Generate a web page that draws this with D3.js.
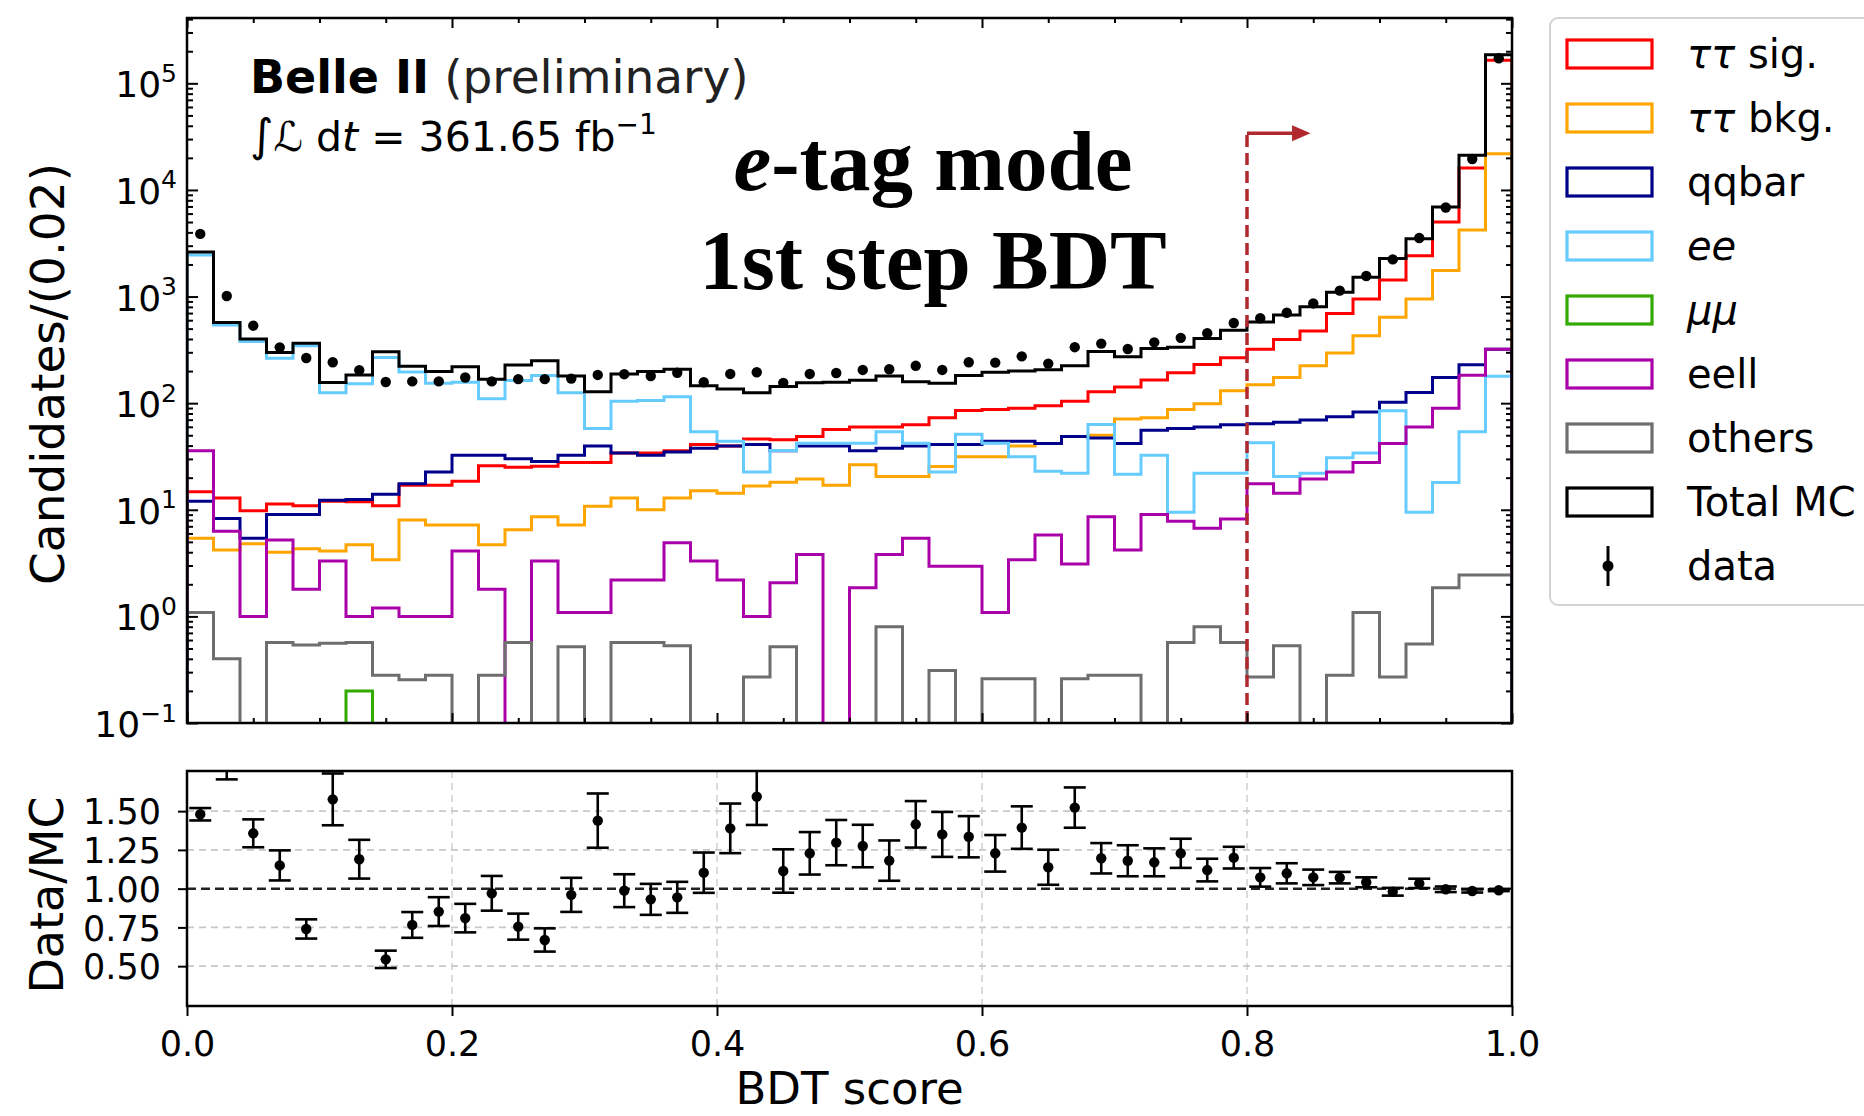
<!DOCTYPE html>
<html>
<head>
<meta charset="utf-8">
<script src="https://cdn.jsdelivr.net/npm/d3@7"></script>
<style>
  html, body { margin: 0; padding: 0; background: #ffffff; }
  svg { display: block; }
  text { font-family: "DejaVu Sans", sans-serif; fill: #000; }
</style>
</head>
<body>
<svg id="chart" width="1864" height="1116"></svg>
<script>
// BDT score histogram: 50 bins of width 0.02 between 0 and 1
const binWidth = 0.02;
const nBins = 50;

const ttSig = [14.8, 12.9, 9.8, 11.3, 10.9, 12.0, 11.9, 10.9, 17.0, 17.0,
  18.5, 25.9, 25.0, 25.6, 27.8, 27.8, 34, 34, 35.8, 40.9,
  39.6, 46.2, 45.3, 48.6, 56.7, 59.7, 59.7, 62.8, 73.1, 85.3,
  87, 89.7, 94.4, 104, 128, 142, 165, 193, 231, 267,
  321, 396, 475, 693, 946, 1430, 2410, 5000, 16100, 165000];

const ttBkg = [5.4, 4.2, 4.8, 4.0, 4.3, 4.1, 4.7, 3.4, 8.0, 7.2,
  7.2, 4.7, 6.5, 8.6, 7.2, 10.8, 12.9, 10.0, 12.9, 15.1,
  14.3, 16.7, 18.1, 19.4, 17.0, 26.4, 20.5, 20.5, 25.4, 31.4,
  31.4, 39.7, 41.8, 48.6, 50, 71, 73.1, 87, 99, 131,
  149, 174, 224, 296, 430, 640, 950, 1760, 4200, 21900];

const qqbar = [12.0, 8.3, 5.4, 9.05, 9.05, 12.3, 12.5, 14.0, 17.5, 22.6,
  32.4, 32.4, 30.1, 28.3, 32.4, 39.7, 34, 32.4, 34.8, 37.7,
  39.7, 40.9, 35.8, 39.7, 39.7, 35.8, 37.7, 39.7, 40.9, 40.9,
  44, 44, 41.8, 48.6, 47.2, 41.8, 55.6, 58, 59.7, 62.8,
  64.1, 66.1, 69.5, 74.6, 82.6, 102, 126, 174, 229, 321];

const ee = [2450, 542, 378, 264, 345, 125, 152, 268, 196, 154,
  157, 110, 163, 182, 125, 58, 104, 106, 115, 54,
  44, 22.6, 36, 42, 42, 42, 54, 42, 22.6, 51,
  42, 31.4, 23, 22, 63, 21.5, 32.4, 9.5, 22, 22,
  42.6, 20.5, 22, 30.7, 34, 85, 9.5, 18, 54, 179];

const mumu = [0, 0, 0, 0, 0, 0, 0.2, 0, 0, 0,
  0, 0, 0, 0, 0, 0, 0, 0, 0, 0,
  0, 0, 0, 0, 0, 0, 0, 0, 0, 0,
  0, 0, 0, 0, 0, 0, 0, 0, 0, 0,
  0, 0, 0, 0, 0, 0, 0, 0, 0, 0];

const eell = [35.8, 6.3, 1.0, 5.2, 1.8, 3.3, 1.0, 1.2, 1.0, 1.0,
  4.1, 1.8, 0, 3.3, 1.09, 1.09, 2.2, 2.2, 4.9, 3.3,
  2.2, 1.0, 2.07, 3.8, 0, 1.86, 3.8, 5.4, 2.95, 2.95,
  1.09, 3.4, 5.8, 3.1, 8.6, 4.2, 9.05, 7.8, 6.7, 8.2,
  17.5, 14.3, 19.4, 22.6, 27.8, 41.8, 59.7, 89.7, 183, 321];

const others = [1.09, 0.40, 0, 0.57, 0.54, 0.56, 0.57, 0.28, 0.255, 0.28,
  0, 0.28, 0.57, 0, 0.52, 0, 0.57, 0.57, 0.53, 0,
  0, 0.27, 0.52, 0, 0, 0, 0.8, 0, 0.31, 0,
  0.26, 0.26, 0, 0.26, 0.28, 0.28, 0, 0.57, 0.8, 0.57,
  0.27, 0.53, 0, 0.28, 1.09, 0.27, 0.55, 1.86, 2.45, 2.45];

const totalMC = [2620, 570, 400, 298, 364, 156, 184, 304, 222, 198,
  219, 168, 228, 250, 180, 128, 188, 198, 208, 146,
  136, 125, 143, 155, 157, 164, 180, 159, 154, 182,
  195, 200, 206, 224, 305, 272, 325, 335, 404, 484,
  578, 670, 803, 1100, 1515, 2280, 3490, 6900, 21100, 185000];

const dataCounts = [3870, 1013, 533, 334, 265, 242, 204, 158, 160, 160,
  174, 160, 168, 168, 170, 184, 187, 180, 193, 157,
  188, 195, 155, 188, 192, 205, 208, 224, 205, 242,
  240, 275, 235, 335, 362, 322, 372, 410, 453, 565,
  626, 705, 862, 1136, 1560, 2230, 3540, 6850, 19500, 172000];

const ratio = [1.48, 1.85, 1.357, 1.15, 0.74, 1.576, 1.19, 0.544, 0.766, 0.852,
  0.81, 0.97, 0.755, 0.669, 0.96, 1.439, 0.987, 0.931, 0.944, 1.103,
  1.389, 1.594, 1.114, 1.228, 1.297, 1.275, 1.181, 1.415, 1.35, 1.335,
  1.228, 1.394, 1.138, 1.523, 1.196, 1.18, 1.17, 1.228, 1.12, 1.2,
  1.073, 1.099, 1.073, 1.071, 1.041, 0.98, 1.034, 0.996, 0.985, 0.99];

const ratioErr = [0.04, 0.145, 0.09, 0.097, 0.062, 0.167, 0.125, 0.056, 0.083, 0.093,
  0.092, 0.112, 0.084, 0.075, 0.11, 0.175, 0.106, 0.10, 0.10, 0.13,
  0.16, 0.183, 0.14, 0.137, 0.146, 0.137, 0.13, 0.15, 0.145, 0.133,
  0.118, 0.137, 0.113, 0.13, 0.098, 0.10, 0.09, 0.094, 0.073, 0.07,
  0.06, 0.065, 0.05, 0.037, 0.032, 0.025, 0.03, 0.018, 0.01, 0.006];

// legend / series definitions
const seriesNames = ["ττ sig.", "ττ bkg.", "qqbar", "ee", "μμ", "eell", "others", "Total MC"];
const seriesColors = ["#ff0000", "#ffa500", "#00008b", "#66ccff", "#33aa00", "#aa00aa", "#6e6e6e", "#000000"];
const seriesValues = [ttSig, ttBkg, qqbar, ee, mumu, eell, others, totalMC];

const xTickValues = [0, 0.2, 0.4, 0.6, 0.8, 1.0];
const xMinorValues = d3.range(0, 1.0001, 0.05);
const yTickExponents = [-1, 0, 1, 2, 3, 4, 5];
const ratioTicks = [0.5, 0.75, 1.0, 1.25, 1.5];
const cutValue = 0.8;

const svg = d3.select("#chart");
const main = { left: 187, right: 1512, top: 18, bottom: 723 };
const low = { top: 771, bottom: 1006 };

const x = d3.scaleLinear().domain([0, 1]).range([main.left, main.right]);
const y = d3.scaleLog().domain([0.1, 4.1e5]).range([main.bottom, main.top]);
const yr = d3.scaleLinear().domain([0.243, 1.759]).range([low.bottom, low.top]);

const defs = svg.append("defs");
defs.append("clipPath").attr("id", "clipMain").append("rect")
  .attr("x", main.left).attr("y", main.top)
  .attr("width", main.right - main.left).attr("height", main.bottom - main.top);
defs.append("clipPath").attr("id", "clipLow").append("rect")
  .attr("x", main.left).attr("y", low.top)
  .attr("width", main.right - main.left).attr("height", low.bottom - low.top);

// ---------- main panel: step histograms ----------
const FLOOR = 1e-3;
function stepPoints(vals) {
  const pts = [[0, FLOOR]];
  vals.forEach((v, i) => {
    const vv = v > 0 ? v : FLOOR;
    pts.push([i * binWidth, vv], [(i + 1) * binWidth, vv]);
  });
  pts.push([1, FLOOR]);
  return pts;
}
const stepLine = d3.line().x(d => x(d[0])).y(d => y(d[1]));

const gHist = svg.append("g").attr("clip-path", "url(#clipMain)");
seriesValues.forEach((vals, k) => {
  gHist.append("path")
    .attr("d", stepLine(stepPoints(vals)))
    .attr("fill", "none")
    .attr("stroke", seriesColors[k])
    .attr("stroke-width", 3)
    .attr("stroke-linejoin", "miter");
});

// data points
gHist.selectAll("circle.data").data(dataCounts).enter().append("circle")
  .attr("class", "data")
  .attr("cx", (d, i) => x((i + 0.5) * binWidth))
  .attr("cy", d => y(d))
  .attr("r", 5.2)
  .attr("fill", "#000");

// selection cut marker
const cutTop = y(3.4e4);
svg.append("line")
  .attr("x1", x(cutValue)).attr("x2", x(cutValue))
  .attr("y1", main.bottom).attr("y2", cutTop)
  .attr("stroke", "#b0282e").attr("stroke-width", 3.5)
  .attr("stroke-dasharray", "12,6");
svg.append("line")
  .attr("x1", x(cutValue)).attr("x2", x(0.836))
  .attr("y1", cutTop).attr("y2", cutTop)
  .attr("stroke", "#b0282e").attr("stroke-width", 3.5);
svg.append("path")
  .attr("d", `M${x(0.848)},${cutTop} L${x(0.834)},${cutTop - 8} L${x(0.834)},${cutTop + 8} Z`)
  .attr("fill", "#b0282e");

// main frame and ticks (inward on all four sides)
function styleAxis(g) {
  g.select(".domain").remove();
  g.selectAll(".tick line").attr("stroke", "#000").attr("stroke-width", 2);
  g.selectAll("text").remove();
}
const yMinor = [];
for (let e = -1; e <= 5; e++) for (let m = 2; m <= 9; m++) {
  const v = m * Math.pow(10, e);
  if (v <= 4.1e5) yMinor.push(v);
}
const yMajor = yTickExponents.map(e => Math.pow(10, e));

svg.append("g").attr("transform", `translate(${main.left},0)`)
  .call(d3.axisLeft(y).tickValues(yMajor).tickSizeInner(-11).tickSizeOuter(0)).call(styleAxis);
svg.append("g").attr("transform", `translate(${main.left},0)`)
  .call(d3.axisLeft(y).tickValues(yMinor).tickSizeInner(-6).tickSizeOuter(0)).call(styleAxis);
svg.append("g").attr("transform", `translate(${main.right},0)`)
  .call(d3.axisRight(y).tickValues(yMajor).tickSizeInner(-11).tickSizeOuter(0)).call(styleAxis);
svg.append("g").attr("transform", `translate(${main.right},0)`)
  .call(d3.axisRight(y).tickValues(yMinor).tickSizeInner(-6).tickSizeOuter(0)).call(styleAxis);
const xMinorOnly = xMinorValues.filter(v => xTickValues.every(t => Math.abs(t - v) > 1e-6));
svg.append("g").attr("transform", `translate(0,${main.top})`)
  .call(d3.axisTop(x).tickValues(xTickValues).tickSizeInner(-10).tickSizeOuter(0)).call(styleAxis);
svg.append("g").attr("transform", `translate(0,${main.top})`)
  .call(d3.axisTop(x).tickValues(xMinorOnly).tickSizeInner(-5).tickSizeOuter(0)).call(styleAxis);
svg.append("g").attr("transform", `translate(0,${main.bottom})`)
  .call(d3.axisBottom(x).tickValues(xTickValues).tickSizeInner(-10).tickSizeOuter(0)).call(styleAxis);
svg.append("g").attr("transform", `translate(0,${main.bottom})`)
  .call(d3.axisBottom(x).tickValues(xMinorOnly).tickSizeInner(-5).tickSizeOuter(0)).call(styleAxis);

svg.append("rect")
  .attr("x", main.left).attr("y", main.top)
  .attr("width", main.right - main.left).attr("height", main.bottom - main.top)
  .attr("fill", "none").attr("stroke", "#000").attr("stroke-width", 2.5);

// y tick labels as powers of ten
yTickExponents.forEach(e => {
  const t = svg.append("text")
    .attr("x", 177).attr("y", y(Math.pow(10, e)) + 14)
    .attr("text-anchor", "end")
    .attr("font-size", 36).attr("fill", "#222");
  t.append("tspan").text("10");
  t.append("tspan").attr("font-size", 25).attr("dy", -15.5)
    .text(e < 0 ? "\u2212" + Math.abs(e) : String(e));
});

svg.append("text")
  .attr("transform", `translate(64,374) rotate(-90)`)
  .attr("text-anchor", "middle").attr("font-size", 47).attr("fill", "#222")
  .text("Candidates/(0.02)");

// annotations
const belle = svg.append("text").attr("x", 250).attr("y", 93).attr("font-size", 46);
belle.append("tspan").attr("font-weight", "bold").text("Belle II");
belle.append("tspan").attr("fill", "#222").attr("font-size", 47).text(" (preliminary)");

const lumi = svg.append("text").attr("x", 250).attr("y", 151).attr("font-size", 41).attr("fill", "#222");
lumi.append("tspan").attr("font-size", 45).text("\u222B");
lumi.append("tspan").attr("font-style", "italic").text("\u2112");
lumi.append("tspan").text(" d");
lumi.append("tspan").attr("font-style", "italic").text("t");
lumi.append("tspan").text(" = 361.65 fb");
lumi.append("tspan").attr("font-size", 28).attr("dy", -17).text("\u22121");

const title1 = svg.append("text").attr("x", 933).attr("y", 190)
  .attr("text-anchor", "middle").attr("font-size", 85).attr("font-weight", "bold")
  .style("font-family", "'Liberation Serif', 'Times New Roman', serif");
title1.append("tspan").attr("font-style", "italic").text("e");
title1.append("tspan").text("-tag mode");
svg.append("text").attr("x", 933).attr("y", 289)
  .attr("text-anchor", "middle").attr("font-size", 85).attr("font-weight", "bold")
  .style("font-family", "'Liberation Serif', 'Times New Roman', serif")
  .text("1st step BDT");

// ---------- legend ----------
const leg = svg.append("g");
leg.append("rect")
  .attr("x", 1550).attr("y", 18).attr("width", 340).attr("height", 587)
  .attr("rx", 8).attr("fill", "#fff").attr("stroke", "#d4d4d4").attr("stroke-width", 2);
const legendY = k => 54 + 64 * k;
seriesNames.forEach((name, k) => {
  leg.append("rect")
    .attr("x", 1567).attr("y", legendY(k) - 14).attr("width", 85).attr("height", 28)
    .attr("fill", "none").attr("stroke", seriesColors[k]).attr("stroke-width", 3.2);
  const t = leg.append("text").attr("x", 1687).attr("y", legendY(k) + 14)
    .attr("font-size", 40).attr("fill", "#222");
  if (name.startsWith("ττ")) {
    t.append("tspan").attr("font-style", "italic").text("ττ");
    t.append("tspan").text(name.slice(2));
  } else if (name === "ee" || name === "μμ") {
    t.attr("font-style", "italic").text(name);
  } else {
    t.text(name);
  }
});
const dataY = legendY(8);
leg.append("line").attr("x1", 1608).attr("x2", 1608)
  .attr("y1", dataY - 20).attr("y2", dataY + 20)
  .attr("stroke", "#000").attr("stroke-width", 3);
leg.append("circle").attr("cx", 1608).attr("cy", dataY).attr("r", 5.5).attr("fill", "#000");
leg.append("text").attr("x", 1687).attr("y", dataY + 14)
  .attr("font-size", 40).attr("fill", "#222").text("data");

// ---------- ratio panel ----------
const gGrid = svg.append("g");
ratioTicks.filter(v => v !== 1.0).forEach(v => {
  gGrid.append("line")
    .attr("x1", main.left).attr("x2", main.right)
    .attr("y1", yr(v)).attr("y2", yr(v))
    .attr("stroke", "#c8c8c8").attr("stroke-width", 1.6).attr("stroke-dasharray", "7,5");
});
xTickValues.slice(1, -1).forEach(v => {
  gGrid.append("line")
    .attr("x1", x(v)).attr("x2", x(v))
    .attr("y1", low.top).attr("y2", low.bottom)
    .attr("stroke", "#c8c8c8").attr("stroke-width", 1.3).attr("stroke-dasharray", "7,5");
});
gGrid.append("line")
  .attr("x1", main.left).attr("x2", main.right)
  .attr("y1", yr(1.0)).attr("y2", yr(1.0))
  .attr("stroke", "#222").attr("stroke-width", 2.5).attr("stroke-dasharray", "9,5");

const gRatio = svg.append("g").attr("clip-path", "url(#clipLow)");
ratio.forEach((r, i) => {
  const cx = x((i + 0.5) * binWidth);
  const e = ratioErr[i];
  gRatio.append("line").attr("x1", cx).attr("x2", cx)
    .attr("y1", yr(r - e)).attr("y2", yr(r + e))
    .attr("stroke", "#000").attr("stroke-width", 2.6);
  [r - e, r + e].forEach(v => {
    gRatio.append("line").attr("x1", cx - 11).attr("x2", cx + 11)
      .attr("y1", yr(v)).attr("y2", yr(v))
      .attr("stroke", "#000").attr("stroke-width", 2.6);
  });
  gRatio.append("circle").attr("cx", cx).attr("cy", yr(r)).attr("r", 5.2).attr("fill", "#000");
});

svg.append("rect")
  .attr("x", main.left).attr("y", low.top)
  .attr("width", main.right - main.left).attr("height", low.bottom - low.top)
  .attr("fill", "none").attr("stroke", "#000").attr("stroke-width", 2.5);

const xAxisLow = svg.append("g").attr("transform", `translate(0,${low.bottom})`)
  .call(d3.axisBottom(x).tickValues(xTickValues).tickFormat(d3.format(".1f"))
    .tickSizeInner(10).tickSizeOuter(0).tickPadding(8));
xAxisLow.select(".domain").remove();
xAxisLow.selectAll(".tick line").attr("stroke", "#000").attr("stroke-width", 2);
xAxisLow.selectAll("text").attr("font-size", 35).attr("font-family", "DejaVu Sans")
  .attr("fill", "#222").attr("dy", null).attr("y", 50);

const yAxisLow = svg.append("g").attr("transform", `translate(${main.left},0)`)
  .call(d3.axisLeft(yr).tickValues(ratioTicks).tickFormat(d3.format(".2f"))
    .tickSizeInner(9).tickSizeOuter(0).tickPadding(6));
yAxisLow.select(".domain").remove();
yAxisLow.selectAll(".tick line").attr("stroke", "#000").attr("stroke-width", 2);
yAxisLow.selectAll("text").attr("font-size", 35).attr("font-family", "DejaVu Sans")
  .attr("fill", "#222").attr("x", -26).attr("dy", "0.36em");

svg.append("text")
  .attr("transform", `translate(63,895) rotate(-90)`)
  .attr("text-anchor", "middle").attr("font-size", 46).attr("fill", "#222")
  .text("Data/MC");
svg.append("text")
  .attr("x", x(0.5)).attr("y", 1104)
  .attr("text-anchor", "middle").attr("font-size", 45).attr("fill", "#222")
  .text("BDT score");
</script>
</body>
</html>
